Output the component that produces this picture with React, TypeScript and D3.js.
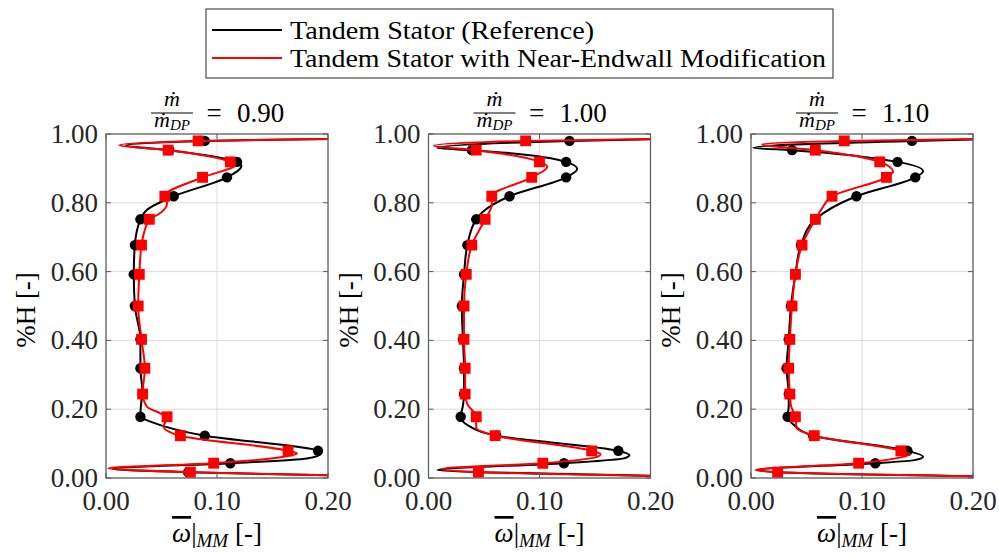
import * as d3 from "d3";

const W = 999;
const H = 556;
const FONT = "'Liberation Serif', 'DejaVu Serif', serif";

// spanwise heights (%H) where markers sit, shared by both configurations
const spanHeights = [0.98, 0.953, 0.919, 0.874, 0.819, 0.752, 0.677, 0.592, 0.5, 0.403, 0.319, 0.244, 0.178, 0.123, 0.079, 0.043, 0.017];

const flowRatios = ["0.90", "1.00", "1.10"];

// loss coefficient at the marker heights, reference tandem stator (black circles)
const refMarkers = [
  [0.089, 0.057, 0.118, 0.109, 0.061, 0.031, 0.026, 0.025, 0.026, 0.031, 0.031, 0.033, 0.031, 0.089, 0.191, 0.112, 0.074],
  [0.127, 0.039, 0.124, 0.124, 0.073, 0.043, 0.035, 0.032, 0.030, 0.031, 0.032, 0.032, 0.029, 0.061, 0.171, 0.122, 0.045],
  [0.145, 0.037, 0.132, 0.148, 0.095, 0.058, 0.045, 0.040, 0.036, 0.034, 0.032, 0.034, 0.033, 0.056, 0.141, 0.112, 0.024],
];

// loss coefficient at the marker heights, near-endwall modification (red squares)
const modMarkers = [
  [0.083, 0.056, 0.112, 0.087, 0.053, 0.039, 0.032, 0.030, 0.029, 0.032, 0.035, 0.033, 0.055, 0.067, 0.164, 0.097, 0.076],
  [0.0875, 0.043, 0.100, 0.093, 0.057, 0.051, 0.039, 0.034, 0.032, 0.032, 0.033, 0.033, 0.043, 0.060, 0.147, 0.103, 0.045],
  [0.084, 0.058, 0.116, 0.122, 0.073, 0.058, 0.046, 0.040, 0.037, 0.035, 0.034, 0.035, 0.040, 0.057, 0.135, 0.097, 0.024],
];

// extra points of the continuous profiles [height, loss]: endwall spikes, peaks, bends
const refShape = [
  [[0.988, 0.25], [0.967, 0.018], [0.908, 0.122], [0.78, 0.037], [0.227, 0.032], [0.164, 0.040], [0.070, 0.193], [0.057, 0.181], [0.026, 0.006], [0.004, 0.25]],
  [[0.988, 0.25], [0.959, 0.008], [0.898, 0.134], [0.774, 0.049], [0.21, 0.031], [0.154, 0.035], [0.067, 0.181], [0.057, 0.176], [0.023, 0.008], [0.003, 0.25]],
  [[0.988, 0.25], [0.960, 0.002], [0.892, 0.155], [0.21, 0.034], [0.156, 0.038], [0.062, 0.155], [0.052, 0.147], [0.023, 0.006], [0.003, 0.25]],
];

const modShape = [
  [[0.988, 0.25], [0.968, 0.012], [0.91, 0.116], [0.798, 0.055], [0.766, 0.047], [0.207, 0.037], [0.188, 0.049], [0.149, 0.052], [0.071, 0.172], [0.063, 0.163], [0.028, 0.002], [0.004, 0.25]],
  [[0.988, 0.25], [0.966, 0.005], [0.905, 0.107], [0.794, 0.057], [0.215, 0.035], [0.146, 0.043], [0.069, 0.155], [0.060, 0.150], [0.026, 0.012], [0.003, 0.25]],
  [[0.988, 0.25], [0.970, 0.010], [0.890, 0.128], [0.784, 0.064], [0.21, 0.036], [0.146, 0.041], [0.069, 0.143], [0.060, 0.135], [0.023, 0.004], [0.003, 0.25]],
];

const xTicks = [0, 0.1, 0.2];
const yTicks = [0, 0.2, 0.4, 0.6, 0.8, 1.0];

const legendLabels = ["Tandem Stator (Reference)", "Tandem Stator with Near-Endwall Modification"];
const legendColors = ["#000000", "#ff0000"];

const plot = { left: 106, step: 322.5, width: 222, top: 134, bottom: 478 };

function profile(markers: number[], shape: number[][]) {
  return [...spanHeights.map((h, i) => [h, markers[i]]), ...shape].sort((a, b) => b[0] - a[0]);
}

function Panel({ index }: { index: number }) {
  const x0 = plot.left + index * plot.step;
  const x = d3.scaleLinear().domain([0, 0.2]).range([x0, x0 + plot.width]);
  const y = d3.scaleLinear().domain([0, 1]).range([plot.bottom, plot.top]);
  const cx = x0 + plot.width / 2;

  const line = d3
    .line<number[]>()
    .x((d) => x(d[1]))
    .y((d) => y(d[0]))
    .curve(d3.curveMonotoneY);

  const series = [
    { markers: refMarkers[index], shape: refShape[index], color: legendColors[0], sym: d3.symbolCircle, size: 85 },
    { markers: modMarkers[index], shape: modShape[index], color: legendColors[1], sym: d3.symbolSquare, size: 118 },
  ];
  const clipId = `clip-${index}`;

  return (
    <g>
      <clipPath id={clipId}>
        <rect x={x0} y={plot.top} width={plot.width} height={plot.bottom - plot.top} />
      </clipPath>

      {/* grid */}
      {xTicks.map((t) => (
        <line key={"gx" + t} x1={x(t)} x2={x(t)} y1={plot.top} y2={plot.bottom} stroke="#dcdcdc" strokeWidth={1} />
      ))}
      {yTicks.map((t) => (
        <line key={"gy" + t} x1={x0} x2={x0 + plot.width} y1={y(t)} y2={y(t)} stroke="#dcdcdc" strokeWidth={1} />
      ))}

      {/* profiles */}
      <g clipPath={`url(#${clipId})`}>
        {series.map((s, i) => (
          <g key={i}>
            <path d={line(profile(s.markers, s.shape)) || ""} fill="none" stroke={s.color} strokeWidth={2} />
            {s.markers.map((v, j) => (
              <path
                key={j}
                transform={`translate(${x(v)},${y(spanHeights[j])})`}
                d={d3.symbol(s.sym, s.size)() || ""}
                fill={s.color}
              />
            ))}
          </g>
        ))}
      </g>

      {/* box and inward ticks */}
      <rect x={x0} y={plot.top} width={plot.width} height={plot.bottom - plot.top} fill="none" stroke="#5a5a5a" strokeWidth={1.2} />
      {xTicks.map((t) => (
        <g key={"tx" + t}>
          <line x1={x(t)} x2={x(t)} y1={plot.bottom} y2={plot.bottom - 5} stroke="#5a5a5a" />
          <line x1={x(t)} x2={x(t)} y1={plot.top} y2={plot.top + 5} stroke="#5a5a5a" />
          <text x={x(t)} y={510} textAnchor="middle" fontSize={27} fill="#262626">
            {t.toFixed(2)}
          </text>
        </g>
      ))}
      {yTicks.map((t) => (
        <g key={"ty" + t}>
          <line x1={x0} x2={x0 + 5} y1={y(t)} y2={y(t)} stroke="#5a5a5a" />
          <line x1={x0 + plot.width} x2={x0 + plot.width - 5} y1={y(t)} y2={y(t)} stroke="#5a5a5a" />
          <text x={x0 - 8} y={y(t) + 9} textAnchor="end" fontSize={27} fill="#262626">
            {t.toFixed(2)}
          </text>
        </g>
      ))}

      {/* y label */}
      <text transform={`translate(${x0 - 71},310) rotate(-90)`} textAnchor="middle" fontSize={27} fill="#000">
        %H [-]
      </text>

      {/* x label */}
      <text x={cx} y={542} textAnchor="middle" fontSize={27} fill="#000">
        <tspan fontStyle="italic" style={{ textDecoration: "overline" }}>ω</tspan>
        <tspan>|</tspan>
        <tspan fontStyle="italic" fontSize={19} dy={5}>MM</tspan>
        <tspan dy={-5}> [-]</tspan>
      </text>

      {/* title: mdot / mdot_DP = value */}
      <text x={cx - 45} y={106} textAnchor="middle" fontSize={22} fontStyle="italic">ṁ</text>
      <line x1={cx - 66} x2={cx - 24} y1={113} y2={113} stroke="#000" strokeWidth={1} />
      <text x={cx - 45} y={127} textAnchor="middle" fontSize={22} fontStyle="italic">
        ṁ<tspan fontSize={15} dy={3}>DP</tspan>
      </text>
      <text x={cx - 3} y={122} textAnchor="middle" fontSize={27}>=</text>
      <text x={cx + 20} y={122} fontSize={27}>{flowRatios[index]}</text>
    </g>
  );
}

function Legend() {
  const lx = 206;
  const ly = 9;
  const rows = [30, 58];
  const lengths = [304, 536];
  return (
    <g>
      <rect x={lx} y={ly} width={627} height={69} fill="#fff" stroke="#262626" strokeWidth={1} />
      {legendLabels.map((label, i) => (
        <g key={label}>
          <line x1={212} x2={282} y1={rows[i]} y2={rows[i]} stroke={legendColors[i]} strokeWidth={2} />
          <text x={290} y={rows[i] + 9} fontSize={26} fill="#000" textLength={lengths[i]} lengthAdjust="spacingAndGlyphs">
            {label}
          </text>
        </g>
      ))}
    </g>
  );
}

export default function App() {
  return (
    <svg
      width={W}
      height={H}
      style={{ position: "absolute", left: 0, top: 0, background: "#fff" }}
      fontFamily={FONT}
    >
      {flowRatios.map((_, i) => (
        <Panel key={i} index={i} />
      ))}
      <Legend />
    </svg>
  );
}
